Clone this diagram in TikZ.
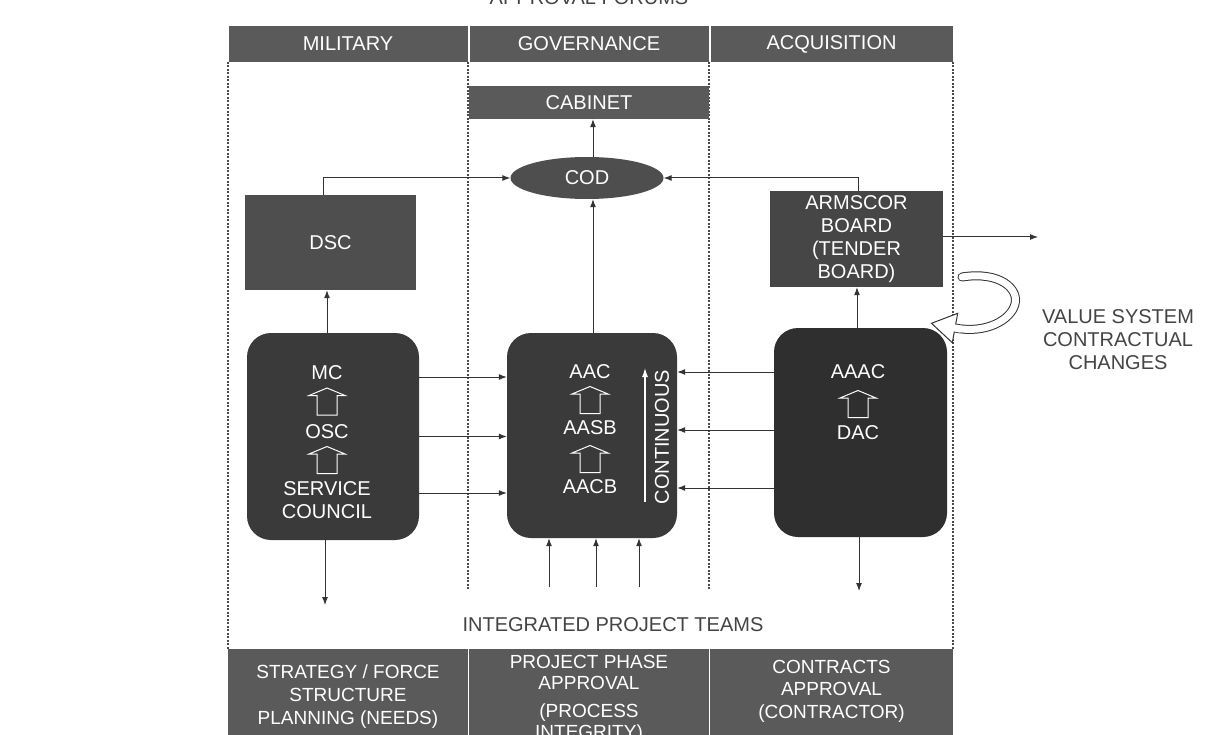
\documentclass[tikz,border=0pt]{standalone}
\usepackage{fontspec}
\setmainfont{Liberation Sans}
\usetikzlibrary{shapes.geometric,arrows.meta,calc}
\definecolor{barcol}{HTML}{5A5A5A}
\definecolor{boxcol}{HTML}{3A3A3A}
\definecolor{darkbox}{HTML}{2F2F2F}
\definecolor{midbox}{HTML}{4E4E4E}
\definecolor{armcol}{HTML}{464646}
\definecolor{linecol}{HTML}{333333}
\definecolor{framecol}{HTML}{4A4A4A}
\definecolor{txtgrey}{HTML}{444444}
\begin{document}
\begin{tikzpicture}[x=1pt,y=-1pt,
  every node/.style={font=\fontsize{20}{23}\selectfont, text=white, align=center, inner sep=0pt},
  bar/.style={rectangle, fill=barcol, draw=none, minimum height=36pt},
  botbar/.style={rectangle, fill=barcol, draw=none, minimum height=86pt, minimum width=240pt},
  sqbox/.style={rectangle, fill=midbox, draw=none},
  rbox/.style={rectangle, rounded corners=24pt, fill=boxcol, draw=none},
  arr/.style={draw=linecol, line width=1pt, -{Latex[length=8pt,width=6pt]}},
  frame/.style={draw=framecol, line width=1.2pt, dash pattern=on 2pt off 1.5pt},
  hollowup/.pic={\draw[white, line width=1pt, line join=miter]
     (0,-13.5) -- (18,-6) -- (10,-6) -- (10,13.5) -- (-10,13.5) -- (-10,-6) -- (-18,-6) -- cycle;}
]
\useasboundingbox (0,0) rectangle (1209,735);
\fill[white] (0,0) rectangle (1209,735);

% title (cut off at the top, as in the reference)
\node[text=txtgrey, anchor=base] (title) at (589,5) {APPROVAL FORUMS};

% frame
\draw[frame] (228,62) -- (228,649);
\draw[frame] (953,62) -- (953,649);
\draw[frame] (468,62) -- (468,589);
\draw[frame] (709,62) -- (709,589);

% header bars
\node[bar, minimum width=239pt] (hmil) at (348,44) {MILITARY};
\node[bar, minimum width=239pt] (hgov) at (589,44) {GOVERNANCE};
\node[bar, minimum width=242pt] (hacq) at (831.5,44) {ACQUISITION};

% cabinet and COD
\node[bar, minimum width=240pt, minimum height=33pt] (cab) at (589,102.5) {CABINET};
\node[ellipse, fill=midbox, minimum width=153pt, minimum height=42pt] (cod) at (587,178) {COD};

% DSC and Armscor
\node[sqbox, minimum width=171pt, minimum height=95pt] (dsc) at (330.5,242.5) {DSC};
\node[sqbox, fill=armcol, minimum width=173pt, minimum height=96pt] (arm) at (856.5,239)
  {ARMSCOR\\BOARD\\(TENDER\\BOARD)};

% rounded boxes
\node[rbox, minimum width=172pt, minimum height=207pt] (mil) at (333,436.5) {};
\node[rbox, minimum width=170pt, minimum height=205pt] (gov) at (592,435.5) {};
\node[rbox, fill=darkbox, minimum width=173pt, minimum height=209pt] (aaac) at (860.5,432.5) {};

% texts inside military box
\node (mc) at (327,373) {MC};
\pic at (327,401.5) {hollowup};
\node (osc) at (327,432) {OSC};
\pic at (327,460) {hollowup};
\node (svc) at (327,500) {SERVICE\\COUNCIL};

% texts inside governance box
\node (aac) at (590,372) {AAC};
\pic at (590,400) {hollowup};
\node (aasb) at (590,428) {AASB};
\pic at (590,459) {hollowup};
\node (aacb) at (590,487) {AACB};
\coordinate (cbot) at (645,502);
\coordinate (ctop) at (645,368);
\draw[draw=white, line width=1.2pt, -{Latex[length=9pt,width=6pt]}] (cbot) -- (ctop);
\node[rotate=90] (cont) at (662,437) {CONTINUOUS};

% texts inside acquisition box
\node (aaactxt) at (858,372) {AAAC};
\pic at (858,404) {hollowup};
\node (dac) at (858,433) {DAC};

% bottom bars
\node[botbar] (bmil) at (348,692) {};
\node[botbar] (bgov) at (589,692) {};
\node[botbar, minimum width=243pt] (bacq) at (831.5,692) {};
\node[font=\fontsize{19}{23}\selectfont] (bmiltxt) at (348,697) {STRATEGY / FORCE\\STRUCTURE\\PLANNING (NEEDS)};
\node[font=\fontsize{19}{21}\selectfont] (bgovtxt) at (589,699) {PROJECT PHASE\\APPROVAL\\[7pt](PROCESS\\INTEGRITY)};
\node[font=\fontsize{19}{22.5}\selectfont] (bacqtxt) at (831.5,691) {CONTRACTS\\APPROVAL\\(CONTRACTOR)};

% free labels
\node[text=txtgrey] (ipt) at (613,625) {INTEGRATED PROJECT TEAMS};
\node[text=txtgrey] (vs) at (1118,340) {VALUE SYSTEM\\CONTRACTUAL\\CHANGES};

% connectors
\draw[arr] ([xshift=-7.5pt]dsc.north) |- (cod.west);
\draw[arr] ([xshift=1.5pt]arm.north) |- (cod.east);
\draw[arr] ([xshift=6pt]cod.north) -- ([xshift=4pt]cab.south);
\draw[arr] ([xshift=1pt]gov.north) -- ([xshift=6pt]cod.south);
\draw[arr] ([xshift=-6pt]mil.north) -- ([xshift=-3.5pt]dsc.south);
\draw[arr] ([xshift=-3.5pt]aaac.north) -- ([xshift=0.5pt]arm.south);

\draw[arr] ($(mil.east)+(0,-59.5)$) -- ($(gov.west)+(0,-58.5)$);
\draw[arr] (mil.east) -- ($(gov.west)+(0,1)$);
\draw[arr] ($(mil.east)+(0,56.5)$) -- ($(gov.west)+(0,57.5)$);

\draw[arr] ($(aaac.west)+(0,-60.5)$) -- ($(gov.east)+(0,-63.5)$);
\draw[arr] ($(aaac.west)+(0,-2.5)$) -- ($(gov.east)+(0,-5.5)$);
\draw[arr] ($(aaac.west)+(0,55.5)$) -- ($(gov.east)+(0,52.5)$);

\coordinate (ipt1) at (549,587);
\coordinate (ipt2) at (596,587);
\coordinate (ipt3) at (639,587);
\draw[arr] (ipt1) -- (ipt1 |- gov.south);
\draw[arr] (ipt2) -- (ipt2 |- gov.south);
\draw[arr] (ipt3) -- (ipt3 |- gov.south);

\coordinate (mdown) at (325,605);
\draw[arr] ([xshift=-8pt]mil.south) -- (mdown);
\coordinate (adown) at (859,591);
\draw[arr] ([xshift=-1.5pt]aaac.south) -- (adown);
\coordinate (ext) at (1038,237);
\draw[arr] ($(arm.east)+(0,-2)$) -- (ext);

% hollow curled arrow
\draw[draw=linecol, line width=9pt, line cap=round] (962,277) .. controls (1000,271) and (1019,289) .. (1015,304) .. controls (1011,320) and (986,334) .. (955,328);
\draw[draw=white, line width=7pt, line cap=round] (962,277) .. controls (1000,271) and (1019,289) .. (1015,304) .. controls (1011,320) and (986,334) .. (955,328);
\filldraw[fill=white, draw=linecol, line width=1pt, line join=miter] (931.5,323.3) -- (957.7,313.3) -- (952.3,342.7) -- cycle;
\draw[draw=white, line width=7pt] (961,329.2) -- (953.5,327.7);
\end{tikzpicture}
\end{document}
